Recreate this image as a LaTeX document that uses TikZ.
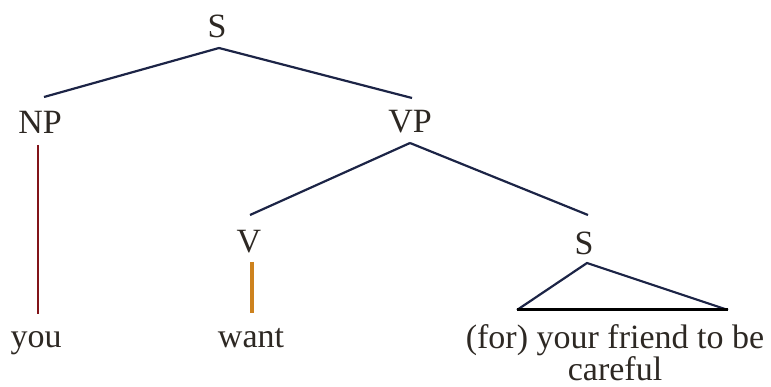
\documentclass[tikz,border=0pt]{standalone}
\usepackage{fontspec}
\setmainfont{Liberation Serif}
\definecolor{edgecol}{RGB}{28,36,70}
\definecolor{npcol}{RGB}{130,20,25}
\definecolor{vcol}{RGB}{205,130,30}
\definecolor{txtcol}{RGB}{45,40,35}
\begin{document}
\begin{tikzpicture}[x=1pt,y=-1pt,
  lab/.style={inner sep=0pt,anchor=base,text=txtcol,font=\fontsize{34}{31}\selectfont},
  edge/.style={draw=edgecol,line width=2.2pt},
  npline/.style={draw=npcol,line width=1.5pt},
  vline/.style={draw=vcol,line width=3.6pt},
  baseline/.style={draw=black,line width=3pt}]
\useasboundingbox (0,0) rectangle (771,387);
\node[lab] (S1) at (217,38) {S};
\node[lab] (NP) at (40,134) {NP};
\node[lab] (VP) at (410,133) {VP};
\node[lab] (V) at (249,253) {V};
\node[lab] (S2) at (584,255) {S};
\node[lab] (you) at (36,347) {you};
\node[lab] (want) at (251,347) {want};
\node[lab,anchor=north,align=center] (T) at (615,324) {(for) your friend to be\\careful};
% S -> NP, VP
\draw[edge] ([xshift=2pt,yshift=-10pt]S1.base) -- ([xshift=4pt,yshift=37pt]NP.base);
\draw[edge] ([xshift=2pt,yshift=-10pt]S1.base) -- ([xshift=2pt,yshift=35pt]VP.base);
% NP -> you
\draw[npline] ([xshift=-2pt,yshift=-11pt]NP.base) -- ([xshift=2pt,yshift=33pt]you.base);
% VP -> V, S
\draw[edge] ([yshift=-10pt]VP.base) -- ([xshift=1pt,yshift=38pt]V.base);
\draw[edge] ([yshift=-10pt]VP.base) -- ([xshift=4pt,yshift=40pt]S2.base);
% V -> want
\draw[vline] ([xshift=3pt,yshift=-9pt]V.base) -- ([xshift=1pt,yshift=34pt]want.base);
% S triangle
\coordinate (TL) at ([xshift=-67pt,yshift=-55pt]S2.base);
\coordinate (TR) at ([xshift=144pt,yshift=-55pt]S2.base);
\draw[edge] (TL) -- ([xshift=3pt,yshift=-8pt]S2.base) -- (TR);
\draw[baseline] (TL) -- (TR);
\end{tikzpicture}
\end{document}
